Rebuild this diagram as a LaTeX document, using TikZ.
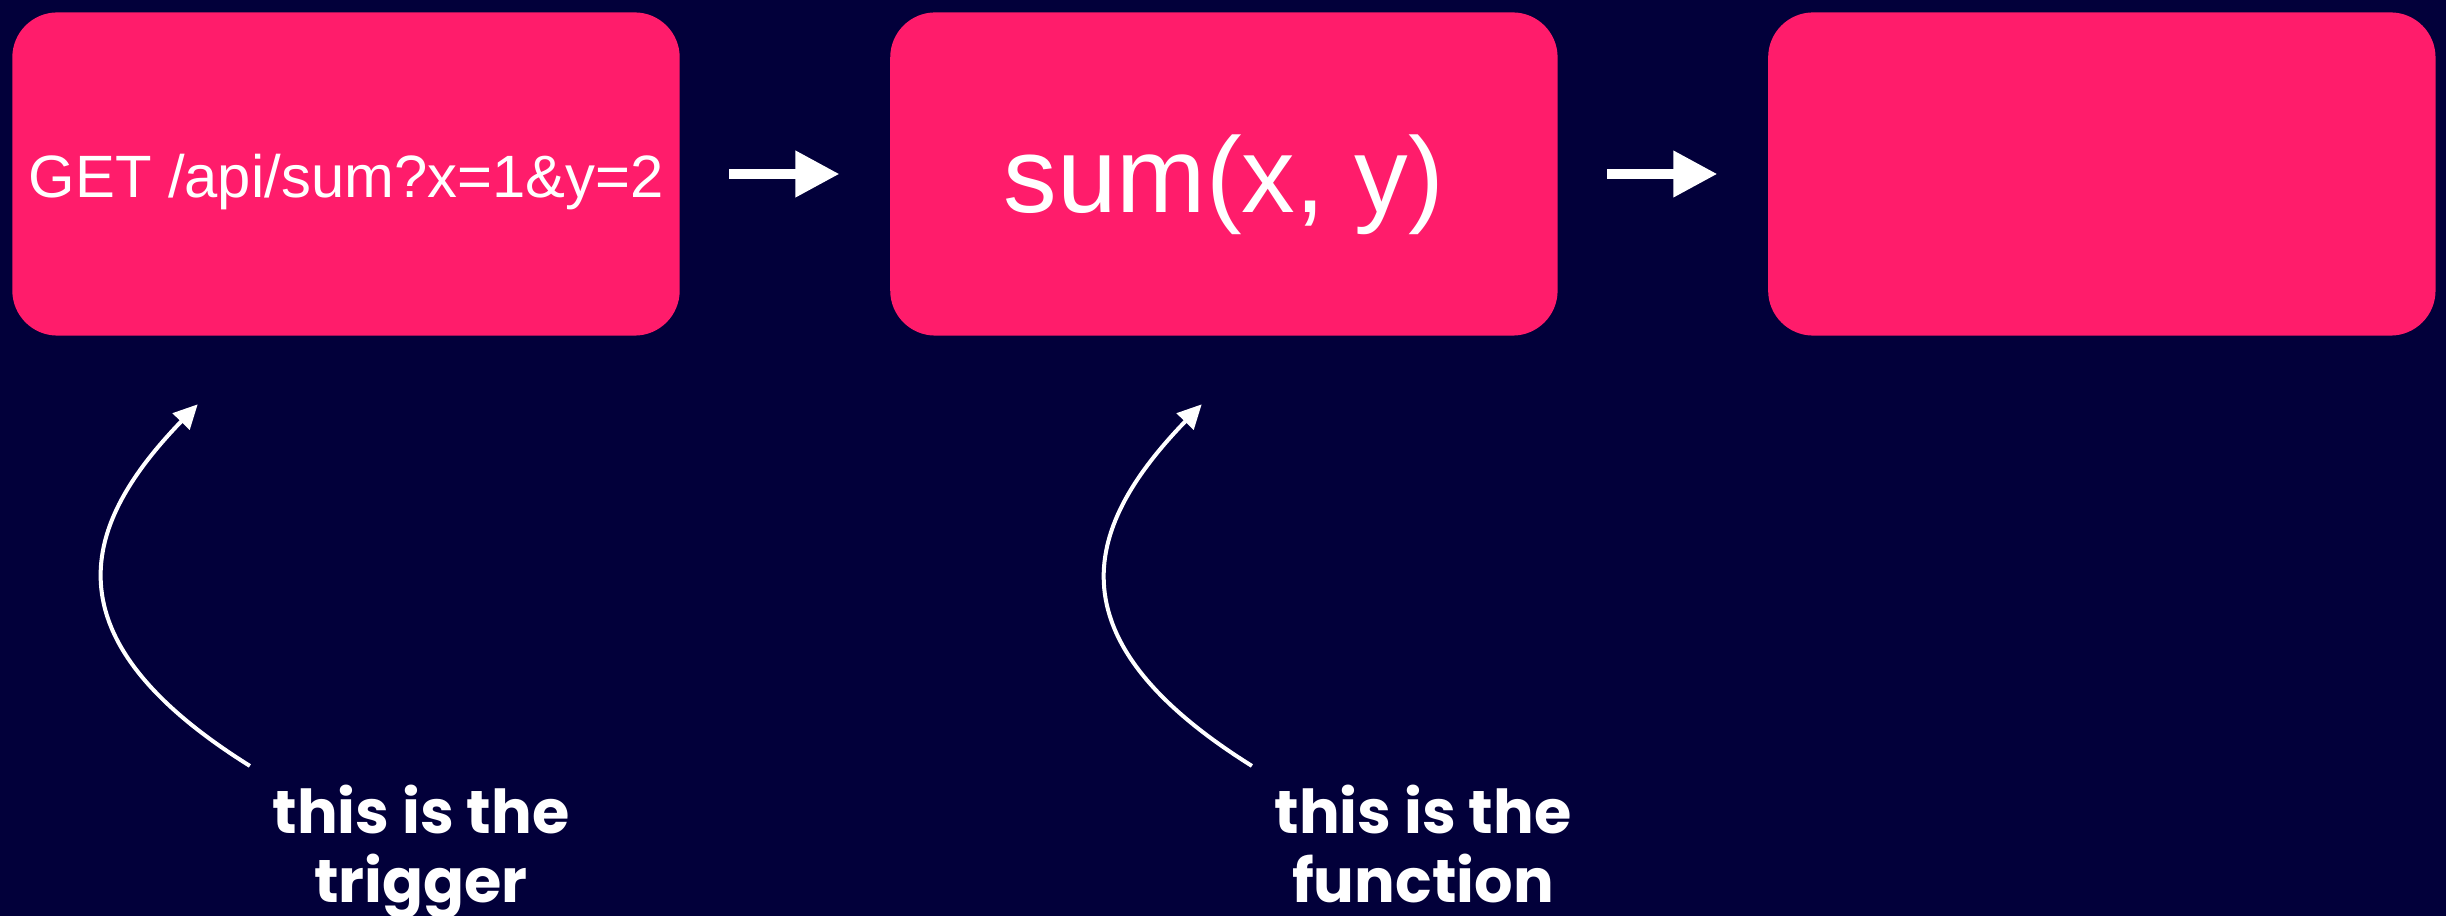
\documentclass[tikz,border=0pt]{standalone}
\usepackage{fontspec}
\setmainfont{Liberation Sans}
\newfontfamily\notefont{Poppins}
\usepackage{tikz}
\usetikzlibrary{arrows.meta, positioning, calc}
\definecolor{navy}{RGB}{2,0,58}
\definecolor{hotpink}{RGB}{255,28,107}

\begin{document}
\begin{tikzpicture}[
   x=0.01cm, y=-0.01cm,
   stage/.style={rectangle, fill=hotpink, rounded corners=0.45cm, minimum width=6.67cm, minimum height=3.23cm, inner sep=0pt, text=white, text depth=0pt},
   flow/.style={white, line width=0.1cm, -{Triangle[length=0.44cm, width=0.44cm]}, shorten <=0.49cm, shorten >=0.5cm},
   pointer/.style={white, line width=0.04cm, -{Triangle[length=0.24cm, width=0.23cm]}},
   note/.style={text=white, align=center, inner sep=0pt, font=\notefont\bfseries\fontsize{17.2}{19.6}\selectfont},
   node distance=2.09cm
]
   % Background
   \useasboundingbox (0,0) rectangle (2446,916);
   \fill[navy] (0,0) rectangle (2446,916);

   % Stages
   \node[stage, text height=0.46cm, font=\fontsize{17}{20}\selectfont] (trigger) at (346,174) {GET /api/sum?x=1\&y=2};
   \node[stage, text height=0.76cm, font=\fontsize{30.5}{36}\selectfont, right=of trigger] (func) {sum(x, y)};
   \node[stage, right=of func] (result) {};

   % Flow arrows
   \draw[flow] (trigger) -- (func);
   \draw[flow] (func) -- (result);

   % Notes (base = last line)
   \node[note, anchor=base] (triggernote) at (421,902) {this is the\\trigger};
   \node[note, anchor=base] (funcnote) at (1423,902) {this is the\\function};

   % Pointers from notes up to stages
   \draw[pointer] ([shift={(-1.71cm,1.36cm)}]triggernote.base) .. controls +(148:2.45cm) and +(226:1.65cm) .. ([shift={(1.86cm,-0.68cm)}]trigger.south west);
   \draw[pointer] ([shift={(-1.71cm,1.36cm)}]funcnote.base) .. controls +(148:2.45cm) and +(226:1.65cm) .. ([shift={(3.12cm,-0.68cm)}]func.south west);
\end{tikzpicture}
\end{document}
